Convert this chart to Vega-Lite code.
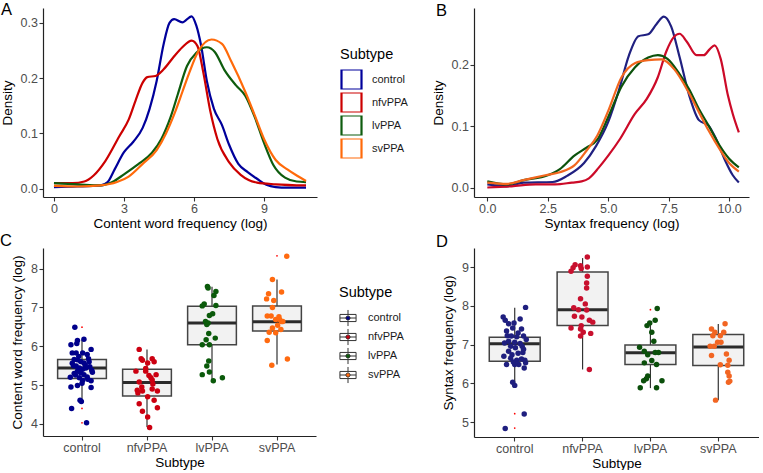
{
  "$schema": "https://vega.github.io/schema/vega-lite/v6.json",
  "background": "white",
  "padding": {"left": 0, "top": 1, "right": 0, "bottom": 0},
  "columns": 2,
  "spacing": {"row": 2, "column": 23},
  "resolve": {"scale": {"color": "independent"}, "legend": {"color": "independent"}},
  "config": {
    "font": "Liberation Sans",
    "view": {"stroke": null},
    "axis": {"grid": false, "domainColor": "#222222", "domainWidth": 1.2, "tickColor": "#333333", "tickWidth": 1.1, "tickSize": 4, "labelColor": "#4D4D4D", "labelFontSize": 12.5, "labelPadding": 1.5, "titleFontSize": 13.5, "titleFontWeight": "normal", "titleColor": "#000000", "titlePadding": 6},
    "axisX": {"titlePadding": 1},
    "legend": {"titleFontWeight": "normal", "titleColor": "#000000", "labelColor": "#1A1A1A", "padding": 0},
    "title": {"fontWeight": "normal", "fontSize": 16.5, "color": "#000000", "anchor": "start", "frame": "group", "offset": 0, "baseline": "alphabetic"}
  },
  "datasets": {
    "densA": [
      {"g":"control","x":0,"d":0.003},{"g":"control","x":1,"d":0.004},{"g":"control","x":2,"d":0.006},{"g":"control","x":2.3,"d":0.012},{"g":"control","x":2.6,"d":0.035},{"g":"control","x":3.0,"d":0.066},{"g":"control","x":3.4,"d":0.085},{"g":"control","x":3.8,"d":0.11},{"g":"control","x":4.1,"d":0.145},{"g":"control","x":4.4,"d":0.195},{"g":"control","x":4.7,"d":0.262},{"g":"control","x":4.95,"d":0.3},{"g":"control","x":5.15,"d":0.307},{"g":"control","x":5.5,"d":0.301},{"g":"control","x":5.9,"d":0.312},{"g":"control","x":6.1,"d":0.295},{"g":"control","x":6.3,"d":0.26},{"g":"control","x":6.55,"d":0.195},{"g":"control","x":6.85,"d":0.145},{"g":"control","x":7.2,"d":0.115},{"g":"control","x":7.5,"d":0.08},{"g":"control","x":7.9,"d":0.045},{"g":"control","x":8.3,"d":0.03},{"g":"control","x":8.7,"d":0.018},{"g":"control","x":9.1,"d":0.007},{"g":"control","x":9.5,"d":0.003},{"g":"control","x":10.0,"d":0.002},{"g":"control","x":10.8,"d":0.002},
      {"g":"nfvPPA","x":0,"d":0.01},{"g":"nfvPPA","x":0.8,"d":0.01},{"g":"nfvPPA","x":1.3,"d":0.013},{"g":"nfvPPA","x":1.7,"d":0.024},{"g":"nfvPPA","x":2.2,"d":0.05},{"g":"nfvPPA","x":2.8,"d":0.095},{"g":"nfvPPA","x":3.2,"d":0.125},{"g":"nfvPPA","x":3.5,"d":0.16},{"g":"nfvPPA","x":3.8,"d":0.192},{"g":"nfvPPA","x":4.0,"d":0.202},{"g":"nfvPPA","x":4.35,"d":0.204},{"g":"nfvPPA","x":4.7,"d":0.216},{"g":"nfvPPA","x":5.1,"d":0.237},{"g":"nfvPPA","x":5.5,"d":0.256},{"g":"nfvPPA","x":5.9,"d":0.268},{"g":"nfvPPA","x":6.15,"d":0.258},{"g":"nfvPPA","x":6.4,"d":0.21},{"g":"nfvPPA","x":6.7,"d":0.14},{"g":"nfvPPA","x":7.0,"d":0.09},{"g":"nfvPPA","x":7.5,"d":0.048},{"g":"nfvPPA","x":8.0,"d":0.025},{"g":"nfvPPA","x":8.7,"d":0.011},{"g":"nfvPPA","x":9.5,"d":0.008},{"g":"nfvPPA","x":10.8,"d":0.006},
      {"g":"lvPPA","x":0,"d":0.01},{"g":"lvPPA","x":1,"d":0.008},{"g":"lvPPA","x":2,"d":0.006},{"g":"lvPPA","x":2.5,"d":0.012},{"g":"lvPPA","x":3.0,"d":0.026},{"g":"lvPPA","x":3.6,"d":0.044},{"g":"lvPPA","x":4.2,"d":0.065},{"g":"lvPPA","x":4.6,"d":0.09},{"g":"lvPPA","x":5.0,"d":0.13},{"g":"lvPPA","x":5.3,"d":0.17},{"g":"lvPPA","x":5.7,"d":0.222},{"g":"lvPPA","x":6.1,"d":0.246},{"g":"lvPPA","x":6.55,"d":0.256},{"g":"lvPPA","x":6.9,"d":0.247},{"g":"lvPPA","x":7.3,"d":0.215},{"g":"lvPPA","x":7.8,"d":0.187},{"g":"lvPPA","x":8.2,"d":0.168},{"g":"lvPPA","x":8.6,"d":0.13},{"g":"lvPPA","x":9.0,"d":0.083},{"g":"lvPPA","x":9.4,"d":0.043},{"g":"lvPPA","x":9.9,"d":0.02},{"g":"lvPPA","x":10.4,"d":0.013},{"g":"lvPPA","x":10.8,"d":0.012},
      {"g":"svPPA","x":0,"d":0.005},{"g":"svPPA","x":1,"d":0.004},{"g":"svPPA","x":2,"d":0.006},{"g":"svPPA","x":2.7,"d":0.012},{"g":"svPPA","x":3.2,"d":0.022},{"g":"svPPA","x":3.8,"d":0.045},{"g":"svPPA","x":4.4,"d":0.07},{"g":"svPPA","x":4.8,"d":0.1},{"g":"svPPA","x":5.2,"d":0.14},{"g":"svPPA","x":5.5,"d":0.175},{"g":"svPPA","x":5.8,"d":0.21},{"g":"svPPA","x":6.2,"d":0.25},{"g":"svPPA","x":6.75,"d":0.27},{"g":"svPPA","x":7.2,"d":0.262},{"g":"svPPA","x":7.6,"d":0.23},{"g":"svPPA","x":8.2,"d":0.175},{"g":"svPPA","x":8.6,"d":0.133},{"g":"svPPA","x":9.0,"d":0.09},{"g":"svPPA","x":9.5,"d":0.052},{"g":"svPPA","x":10.0,"d":0.035},{"g":"svPPA","x":10.4,"d":0.024},{"g":"svPPA","x":10.8,"d":0.014}
    ],
    "densB": [
      {"g":"control","x":0,"d":0.005},{"g":"control","x":0.8,"d":0.002},{"g":"control","x":1.5,"d":0.008},{"g":"control","x":2.7,"d":0.009},{"g":"control","x":3.3,"d":0.019},{"g":"control","x":4.0,"d":0.04},{"g":"control","x":4.5,"d":0.068},{"g":"control","x":5.0,"d":0.107},{"g":"control","x":5.45,"d":0.16},{"g":"control","x":5.85,"d":0.215},{"g":"control","x":6.25,"d":0.247},{"g":"control","x":6.65,"d":0.25},{"g":"control","x":7.0,"d":0.267},{"g":"control","x":7.3,"d":0.279},{"g":"control","x":7.6,"d":0.263},{"g":"control","x":7.95,"d":0.213},{"g":"control","x":8.35,"d":0.15},{"g":"control","x":8.75,"d":0.11},{"g":"control","x":9.15,"d":0.101},{"g":"control","x":9.45,"d":0.08},{"g":"control","x":9.8,"d":0.047},{"g":"control","x":10.15,"d":0.02},{"g":"control","x":10.4,"d":0.008},
      {"g":"nfvPPA","x":0,"d":0.0},{"g":"nfvPPA","x":1,"d":0.002},{"g":"nfvPPA","x":2,"d":0.005},{"g":"nfvPPA","x":2.8,"d":0.005},{"g":"nfvPPA","x":3.5,"d":0.008},{"g":"nfvPPA","x":3.9,"d":0.01},{"g":"nfvPPA","x":4.2,"d":0.015},{"g":"nfvPPA","x":4.6,"d":0.032},{"g":"nfvPPA","x":5.0,"d":0.052},{"g":"nfvPPA","x":5.5,"d":0.08},{"g":"nfvPPA","x":6.1,"d":0.12},{"g":"nfvPPA","x":6.6,"d":0.145},{"g":"nfvPPA","x":7.05,"d":0.18},{"g":"nfvPPA","x":7.4,"d":0.222},{"g":"nfvPPA","x":7.7,"d":0.245},{"g":"nfvPPA","x":7.95,"d":0.251},{"g":"nfvPPA","x":8.25,"d":0.238},{"g":"nfvPPA","x":8.65,"d":0.216},{"g":"nfvPPA","x":8.95,"d":0.216},{"g":"nfvPPA","x":9.2,"d":0.226},{"g":"nfvPPA","x":9.4,"d":0.232},{"g":"nfvPPA","x":9.65,"d":0.21},{"g":"nfvPPA","x":9.95,"d":0.15},{"g":"nfvPPA","x":10.15,"d":0.12},{"g":"nfvPPA","x":10.4,"d":0.09},
      {"g":"lvPPA","x":0,"d":0.01},{"g":"lvPPA","x":0.8,"d":0.005},{"g":"lvPPA","x":1.5,"d":0.012},{"g":"lvPPA","x":2.5,"d":0.02},{"g":"lvPPA","x":3.0,"d":0.03},{"g":"lvPPA","x":3.6,"d":0.052},{"g":"lvPPA","x":4.1,"d":0.065},{"g":"lvPPA","x":4.55,"d":0.078},{"g":"lvPPA","x":5.0,"d":0.115},{"g":"lvPPA","x":5.55,"d":0.165},{"g":"lvPPA","x":6.1,"d":0.196},{"g":"lvPPA","x":6.65,"d":0.212},{"g":"lvPPA","x":7.05,"d":0.216},{"g":"lvPPA","x":7.45,"d":0.21},{"g":"lvPPA","x":7.95,"d":0.185},{"g":"lvPPA","x":8.35,"d":0.16},{"g":"lvPPA","x":8.75,"d":0.128},{"g":"lvPPA","x":9.15,"d":0.101},{"g":"lvPPA","x":9.6,"d":0.069},{"g":"lvPPA","x":10.0,"d":0.047},{"g":"lvPPA","x":10.4,"d":0.033},
      {"g":"svPPA","x":0,"d":0.008},{"g":"svPPA","x":0.8,"d":0.006},{"g":"svPPA","x":1.5,"d":0.012},{"g":"svPPA","x":2.4,"d":0.02},{"g":"svPPA","x":3.0,"d":0.025},{"g":"svPPA","x":3.6,"d":0.036},{"g":"svPPA","x":4.1,"d":0.06},{"g":"svPPA","x":4.55,"d":0.085},{"g":"svPPA","x":5.0,"d":0.125},{"g":"svPPA","x":5.55,"d":0.18},{"g":"svPPA","x":6.1,"d":0.203},{"g":"svPPA","x":6.65,"d":0.208},{"g":"svPPA","x":7.2,"d":0.209},{"g":"svPPA","x":7.75,"d":0.192},{"g":"svPPA","x":8.3,"d":0.157},{"g":"svPPA","x":8.75,"d":0.123},{"g":"svPPA","x":9.15,"d":0.093},{"g":"svPPA","x":9.6,"d":0.063},{"g":"svPPA","x":10.0,"d":0.04},{"g":"svPPA","x":10.4,"d":0.026}
    ],
    "boxC": [
      {"g":"control","lo":4.6,"q1":5.17,"med":5.44,"q3":5.66,"hi":6.17},
      {"g":"nfvPPA","lo":3.92,"q1":4.72,"med":5.07,"q3":5.41,"hi":5.92},
      {"g":"lvPPA","lo":5.1,"q1":6.04,"med":6.6,"q3":7.03,"hi":7.53},
      {"g":"svPPA","lo":5.53,"q1":6.39,"med":6.63,"q3":7.04,"hi":7.72}
    ],
    "outC": [
      {"g":"control","v":6.49},{"g":"control","v":4.4},{"g":"control","v":4.03},{"g":"svPPA","v":8.33}
    ],
    "boxD": [
      {"g":"control","lo":5.93,"q1":6.57,"med":7.02,"q3":7.19,"hi":7.95},
      {"g":"nfvPPA","lo":6.36,"q1":7.49,"med":7.9,"q3":8.87,"hi":9.23},
      {"g":"lvPPA","lo":5.88,"q1":6.49,"med":6.79,"q3":6.99,"hi":7.58},
      {"g":"svPPA","lo":5.57,"q1":6.46,"med":6.94,"q3":7.26,"hi":7.53}
    ],
    "outD": [
      {"g":"control","v":5.22},{"g":"control","v":4.85},{"g":"lvPPA","v":7.9}
    ],
    "ptsC": [
      {"g":"control","j":-0.11,"v":6.49},{"g":"control","j":-0.07,"v":6.15},{"g":"control","j":0.03,"v":6.18},{"g":"control","j":-0.17,"v":6.04},{"g":"control","j":-0.08,"v":6.07},{"g":"control","j":0.14,"v":5.92},{"g":"control","j":-0.15,"v":5.83},{"g":"control","j":-0.09,"v":5.83},{"g":"control","j":0.01,"v":5.83},{"g":"control","j":0.08,"v":5.79},{"g":"control","j":-0.12,"v":5.66},{"g":"control","j":-0.07,"v":5.65},{"g":"control","j":-0.02,"v":5.61},{"g":"control","j":0.03,"v":5.57},{"g":"control","j":0.11,"v":5.6},{"g":"control","j":-0.15,"v":5.56},{"g":"control","j":-0.09,"v":5.49},{"g":"control","j":-0.04,"v":5.44},{"g":"control","j":0.01,"v":5.41},{"g":"control","j":0.06,"v":5.44},{"g":"control","j":-0.07,"v":5.36},{"g":"control","j":-0.02,"v":5.32},{"g":"control","j":0.16,"v":5.33},{"g":"control","j":-0.12,"v":5.3},{"g":"control","j":0.03,"v":5.27},{"g":"control","j":0.08,"v":5.21},{"g":"control","j":-0.04,"v":5.19},{"g":"control","j":0.14,"v":5.11},{"g":"control","j":0.01,"v":5.12},{"g":"control","j":-0.17,"v":4.95},{"g":"control","j":-0.07,"v":4.99},{"g":"control","j":0.14,"v":4.94},{"g":"control","j":-0.03,"v":4.61},{"g":"control","j":-0.01,"v":4.58},{"g":"control","j":-0.16,"v":4.4},{"g":"control","j":0.07,"v":4.03},{"g":"control","j":-0.13,"v":5.5},{"g":"control","j":0.12,"v":5.47},{"g":"control","j":0.05,"v":5.52},{"g":"control","j":-0.1,"v":5.26},{"g":"control","j":0.1,"v":5.68},{"g":"control","j":-0.05,"v":5.74},{"g":"control","j":0.15,"v":5.38},{"g":"control","j":-0.18,"v":5.2},{"g":"control","j":0.0,"v":5.05},{"g":"control","j":0.09,"v":5.15},
      {"g":"nfvPPA","j":-0.12,"v":5.92},{"g":"nfvPPA","j":-0.09,"v":5.68},{"g":"nfvPPA","j":-0.07,"v":5.64},{"g":"nfvPPA","j":0.08,"v":5.68},{"g":"nfvPPA","j":0.01,"v":5.57},{"g":"nfvPPA","j":-0.17,"v":5.36},{"g":"nfvPPA","j":-0.02,"v":5.36},{"g":"nfvPPA","j":0.11,"v":5.6},{"g":"nfvPPA","j":0.14,"v":5.27},{"g":"nfvPPA","j":0.06,"v":5.19},{"g":"nfvPPA","j":0.08,"v":5.13},{"g":"nfvPPA","j":-0.12,"v":5.08},{"g":"nfvPPA","j":-0.15,"v":4.87},{"g":"nfvPPA","j":0.16,"v":4.85},{"g":"nfvPPA","j":-0.07,"v":4.85},{"g":"nfvPPA","j":0.08,"v":4.9},{"g":"nfvPPA","j":0.01,"v":4.7},{"g":"nfvPPA","j":-0.12,"v":4.52},{"g":"nfvPPA","j":0.11,"v":4.61},{"g":"nfvPPA","j":0.16,"v":4.42},{"g":"nfvPPA","j":-0.07,"v":4.33},{"g":"nfvPPA","j":0.01,"v":4.18},{"g":"nfvPPA","j":0.04,"v":3.91},{"g":"nfvPPA","j":-0.02,"v":5.43},{"g":"nfvPPA","j":0.03,"v":5.25},{"g":"nfvPPA","j":-0.08,"v":4.95},{"g":"nfvPPA","j":0.09,"v":5.03},{"g":"nfvPPA","j":-0.14,"v":4.8},
      {"g":"lvPPA","j":-0.07,"v":7.54},{"g":"lvPPA","j":-0.06,"v":7.5},{"g":"lvPPA","j":0.03,"v":7.31},{"g":"lvPPA","j":0.06,"v":7.41},{"g":"lvPPA","j":-0.12,"v":7.09},{"g":"lvPPA","j":-0.15,"v":7.04},{"g":"lvPPA","j":0.06,"v":7.05},{"g":"lvPPA","j":0.01,"v":6.84},{"g":"lvPPA","j":-0.04,"v":6.79},{"g":"lvPPA","j":-0.1,"v":6.64},{"g":"lvPPA","j":-0.06,"v":6.6},{"g":"lvPPA","j":-0.08,"v":6.56},{"g":"lvPPA","j":0.05,"v":6.21},{"g":"lvPPA","j":-0.05,"v":6.33},{"g":"lvPPA","j":-0.15,"v":6.04},{"g":"lvPPA","j":-0.04,"v":6.04},{"g":"lvPPA","j":-0.09,"v":6.17},{"g":"lvPPA","j":-0.05,"v":5.62},{"g":"lvPPA","j":-0.08,"v":5.49},{"g":"lvPPA","j":-0.15,"v":5.27},{"g":"lvPPA","j":-0.04,"v":5.34},{"g":"lvPPA","j":0.02,"v":5.11},{"g":"lvPPA","j":0.16,"v":5.19},
      {"g":"svPPA","j":0.15,"v":8.32},{"g":"svPPA","j":-0.07,"v":7.72},{"g":"svPPA","j":0.07,"v":7.4},{"g":"svPPA","j":-0.13,"v":7.35},{"g":"svPPA","j":-0.05,"v":7.18},{"g":"svPPA","j":-0.16,"v":7.22},{"g":"svPPA","j":-0.07,"v":7.0},{"g":"svPPA","j":-0.15,"v":6.78},{"g":"svPPA","j":-0.09,"v":6.78},{"g":"svPPA","j":-0.02,"v":6.69},{"g":"svPPA","j":0.04,"v":6.69},{"g":"svPPA","j":0.07,"v":6.64},{"g":"svPPA","j":0.01,"v":6.54},{"g":"svPPA","j":-0.07,"v":6.47},{"g":"svPPA","j":-0.02,"v":6.35},{"g":"svPPA","j":0.06,"v":6.43},{"g":"svPPA","j":-0.12,"v":6.36},{"g":"svPPA","j":-0.15,"v":6.15},{"g":"svPPA","j":0.16,"v":5.67},{"g":"svPPA","j":-0.08,"v":5.51},{"g":"svPPA","j":0.09,"v":6.64},{"g":"svPPA","j":0.03,"v":6.76}
    ],
    "ptsD": [
      {"g":"control","j":0.16,"v":7.96},{"g":"control","j":-0.17,"v":7.71},{"g":"control","j":-0.14,"v":7.63},{"g":"control","j":-0.09,"v":7.54},{"g":"control","j":-0.01,"v":7.56},{"g":"control","j":0.08,"v":7.66},{"g":"control","j":-0.03,"v":7.43},{"g":"control","j":-0.11,"v":7.23},{"g":"control","j":-0.05,"v":7.22},{"g":"control","j":0.03,"v":7.2},{"g":"control","j":0.13,"v":7.22},{"g":"control","j":-0.15,"v":7.04},{"g":"control","j":-0.09,"v":7.09},{"g":"control","j":0.0,"v":7.06},{"g":"control","j":0.08,"v":7.03},{"g":"control","j":0.17,"v":7.13},{"g":"control","j":-0.06,"v":6.96},{"g":"control","j":0.01,"v":6.92},{"g":"control","j":0.11,"v":6.96},{"g":"control","j":-0.09,"v":6.83},{"g":"control","j":-0.04,"v":6.74},{"g":"control","j":0.05,"v":6.78},{"g":"control","j":0.12,"v":6.8},{"g":"control","j":-0.12,"v":6.49},{"g":"control","j":0.03,"v":6.6},{"g":"control","j":0.1,"v":6.63},{"g":"control","j":0.16,"v":6.53},{"g":"control","j":0.06,"v":6.49},{"g":"control","j":0.0,"v":6.49},{"g":"control","j":0.14,"v":6.4},{"g":"control","j":-0.03,"v":6.03},{"g":"control","j":0.0,"v":5.95},{"g":"control","j":0.14,"v":5.21},{"g":"control","j":-0.14,"v":4.84},{"g":"control","j":-0.12,"v":7.35},{"g":"control","j":0.1,"v":7.4},{"g":"control","j":-0.06,"v":6.65},{"g":"control","j":0.13,"v":6.88},{"g":"control","j":-0.16,"v":6.7},{"g":"control","j":0.05,"v":7.3},{"g":"control","j":-0.02,"v":6.55},{"g":"control","j":0.15,"v":6.6},
      {"g":"nfvPPA","j":0.07,"v":9.26},{"g":"nfvPPA","j":-0.17,"v":8.89},{"g":"nfvPPA","j":-0.14,"v":8.98},{"g":"nfvPPA","j":-0.11,"v":9.06},{"g":"nfvPPA","j":-0.03,"v":9.03},{"g":"nfvPPA","j":-0.02,"v":8.96},{"g":"nfvPPA","j":0.07,"v":9.0},{"g":"nfvPPA","j":0.07,"v":8.76},{"g":"nfvPPA","j":0.06,"v":8.59},{"g":"nfvPPA","j":0.06,"v":8.46},{"g":"nfvPPA","j":-0.03,"v":8.18},{"g":"nfvPPA","j":0.04,"v":8.05},{"g":"nfvPPA","j":-0.13,"v":7.95},{"g":"nfvPPA","j":-0.06,"v":7.9},{"g":"nfvPPA","j":0.06,"v":7.89},{"g":"nfvPPA","j":-0.12,"v":7.73},{"g":"nfvPPA","j":-0.01,"v":7.71},{"g":"nfvPPA","j":0.1,"v":7.63},{"g":"nfvPPA","j":0.15,"v":7.58},{"g":"nfvPPA","j":-0.02,"v":7.49},{"g":"nfvPPA","j":-0.17,"v":7.43},{"g":"nfvPPA","j":-0.03,"v":7.4},{"g":"nfvPPA","j":0.01,"v":7.32},{"g":"nfvPPA","j":0.12,"v":7.29},{"g":"nfvPPA","j":-0.03,"v":7.22},{"g":"nfvPPA","j":0.1,"v":6.36},
      {"g":"lvPPA","j":0.1,"v":7.93},{"g":"lvPPA","j":-0.05,"v":7.49},{"g":"lvPPA","j":0.07,"v":7.63},{"g":"lvPPA","j":-0.01,"v":7.56},{"g":"lvPPA","j":0.02,"v":7.32},{"g":"lvPPA","j":0.05,"v":7.09},{"g":"lvPPA","j":-0.16,"v":6.93},{"g":"lvPPA","j":-0.09,"v":6.83},{"g":"lvPPA","j":-0.04,"v":6.74},{"g":"lvPPA","j":0.07,"v":6.8},{"g":"lvPPA","j":0.12,"v":6.8},{"g":"lvPPA","j":0.02,"v":6.59},{"g":"lvPPA","j":0.09,"v":6.49},{"g":"lvPPA","j":-0.09,"v":6.53},{"g":"lvPPA","j":-0.04,"v":6.19},{"g":"lvPPA","j":-0.06,"v":6.12},{"g":"lvPPA","j":-0.1,"v":6.07},{"g":"lvPPA","j":0.17,"v":6.07},{"g":"lvPPA","j":-0.15,"v":5.89},{"g":"lvPPA","j":0.09,"v":5.89},
      {"g":"svPPA","j":0.1,"v":7.54},{"g":"svPPA","j":-0.1,"v":7.4},{"g":"svPPA","j":-0.05,"v":7.32},{"g":"svPPA","j":0.03,"v":7.23},{"g":"svPPA","j":0.08,"v":7.32},{"g":"svPPA","j":-0.08,"v":7.23},{"g":"svPPA","j":-0.01,"v":7.06},{"g":"svPPA","j":0.04,"v":7.06},{"g":"svPPA","j":-0.12,"v":6.96},{"g":"svPPA","j":-0.06,"v":6.96},{"g":"svPPA","j":-0.1,"v":6.72},{"g":"svPPA","j":0.12,"v":6.76},{"g":"svPPA","j":0.16,"v":6.6},{"g":"svPPA","j":0.14,"v":6.47},{"g":"svPPA","j":0.03,"v":6.48},{"g":"svPPA","j":0.14,"v":6.29},{"g":"svPPA","j":0.16,"v":6.19},{"g":"svPPA","j":0.17,"v":6.06},{"g":"svPPA","j":0.15,"v":6.03},{"g":"svPPA","j":-0.04,"v":5.57}
    ]
  },
  "concat": [
    {
      "title": {"text": "A", "dx": -42, "dy": 14},
      "width": 274, "height": 189,
      "data": {"name": "densA"},
      "mark": {"type": "line", "interpolate": "monotone", "strokeWidth": 2.2},
      "encoding": {
        "x": {"field": "x", "type": "quantitative", "scale": {"domain": [-0.47, 11.27], "nice": false, "zero": false}, "axis": {"values": [0, 3, 6, 9], "format": "d", "title": "Content word frequency (log)"}},
        "y": {"field": "d", "type": "quantitative", "scale": {"domain": [-0.015, 0.327], "nice": false, "zero": false}, "axis": {"values": [0, 0.1, 0.2, 0.3], "format": ".1f", "title": "Density"}},
        "color": {"field": "g", "type": "nominal", "scale": {"domain": ["control", "nfvPPA", "lvPPA", "svPPA"], "range": ["#00009B", "#CC0000", "#0E5C0E", "#FF6A0A"]},
          "legend": {"orient": "none", "legendX": 297, "legendY": 40, "title": "Subtype", "titleFontSize": 14.5, "titlePadding": 7, "labelFontSize": 11, "labelOffset": 9, "symbolType": "square", "symbolSize": 400, "symbolStrokeWidth": 2.2, "rowPadding": 3, "clipHeight": 20, "encode": {"symbols": {"update": {"fill": {"value": "white"}, "size": {"value": 400}}}}}}
      }
    },
    {
      "title": {"text": "B", "dx": -38, "dy": 15},
      "width": 275, "height": 189,
      "data": {"name": "densB"},
      "mark": {"type": "line", "interpolate": "monotone", "strokeWidth": 2.2},
      "encoding": {
        "x": {"field": "x", "type": "quantitative", "scale": {"domain": [-0.55, 10.82], "nice": false, "zero": false}, "axis": {"values": [0, 2.5, 5, 7.5, 10], "format": ".1f", "title": "Syntax frequency (log)"}},
        "y": {"field": "d", "type": "quantitative", "scale": {"domain": [-0.0155, 0.293], "nice": false, "zero": false}, "axis": {"values": [0, 0.1, 0.2], "format": ".1f", "title": "Density"}},
        "color": {"field": "g", "type": "nominal", "scale": {"domain": ["control", "nfvPPA", "lvPPA", "svPPA"], "range": ["#202080", "#CC0A28", "#0C520C", "#F2661E"]}, "legend": null}
      }
    },
    {
      "title": {"text": "C", "dx": -43, "dy": 5},
      "width": 273, "height": 188,
      "resolve": {"scale": {"xOffset": "independent"}},
      "layer": [
        {
          "data": {"name": "boxC"},
          "mark": {"type": "rule", "color": "#333333", "strokeWidth": 1.2},
          "encoding": {
            "x": {"field": "g", "type": "nominal", "scale": {"type": "band", "domain": ["control", "nfvPPA", "lvPPA", "svPPA"], "paddingInner": 0, "paddingOuter": 0.1}, "axis": {"title": "Subtype", "labelAngle": 0}},
            "y": {"field": "lo", "type": "quantitative", "scale": {"domain": [3.69, 8.53], "nice": false, "zero": false}, "axis": {"values": [4, 5, 6, 7, 8], "title": "Content word frequency (log)"}},
            "y2": {"field": "hi"}
          }
        },
        {
          "data": {"name": "boxC"},
          "mark": {"type": "bar", "fill": "#F2F2F2", "stroke": "#444444", "strokeWidth": 1.5, "width": {"band": 0.75}},
          "encoding": {
            "x": {"field": "g", "type": "nominal"},
            "y": {"field": "q1", "type": "quantitative"},
            "y2": {"field": "q3"}
          }
        },
        {
          "data": {"name": "boxC"},
          "mark": {"type": "tick", "color": "#2B2B2B", "thickness": 3, "size": 48, "opacity": 1},
          "encoding": {
            "x": {"field": "g", "type": "nominal"},
            "y": {"field": "med", "type": "quantitative"}
          }
        },
        {
          "data": {"name": "outC"},
          "mark": {"type": "point", "filled": true, "color": "#FF0000", "size": 3, "opacity": 1},
          "encoding": {
            "x": {"field": "g", "type": "nominal"},
            "y": {"field": "v", "type": "quantitative"}
          }
        },
        {
          "data": {"name": "ptsC"},
          "mark": {"type": "point", "filled": true, "size": 30, "opacity": 1},
          "encoding": {
            "x": {"field": "g", "type": "nominal"},
            "xOffset": {"field": "j", "type": "quantitative", "scale": {"domain": [-0.5, 0.5]}},
            "y": {"field": "v", "type": "quantitative"},
            "color": {"field": "g", "type": "nominal", "scale": {"domain": ["control", "nfvPPA", "lvPPA", "svPPA"], "range": ["#00008B", "#CC0011", "#0B5A0B", "#FF6A10"]},
              "legend": {"orient": "none", "legendX": 296, "legendY": 38, "title": "Subtype", "titleFontSize": 14.5, "titlePadding": 9, "labelFontSize": 11, "labelOffset": 11, "symbolType": "M-0.95,-0.42L0.95,-0.42M0.95,-0.42L0.95,0.42M0.95,0.42L-0.95,0.42M-0.95,0.42L-0.95,-0.42M-0.95,0L-0.25,0M0.25,0L0.95,0M0,-0.42L0,-0.95M0,0.42L0,0.95M0.25,0A0.25,0.25,0,1,1,-0.25,0A0.25,0.25,0,1,1,0.25,0Z", "symbolSize": 289, "symbolStrokeColor": "#333333", "symbolStrokeWidth": 1, "symbolOpacity": 1, "rowPadding": 2, "clipHeight": 17, "encode": {"symbols": {"update": {"size": {"value": 289}, "stroke": {"value": "#333333"}, "strokeWidth": {"value": 1}}}}}}
          }
        }
      ]
    },
    {
      "title": {"text": "D", "dx": -38, "dy": 6},
      "width": 285, "height": 189,
      "resolve": {"scale": {"xOffset": "independent"}},
      "layer": [
        {
          "data": {"name": "boxD"},
          "mark": {"type": "rule", "color": "#333333", "strokeWidth": 1.2},
          "encoding": {
            "x": {"field": "g", "type": "nominal", "scale": {"type": "band", "domain": ["control", "nfvPPA", "lvPPA", "svPPA"], "paddingInner": 0, "paddingOuter": 0.1}, "axis": {"title": "Subtype", "labelAngle": 0}},
            "y": {"field": "lo", "type": "quantitative", "scale": {"domain": [4.62, 9.49], "nice": false, "zero": false}, "axis": {"values": [5, 6, 7, 8, 9], "title": "Syntax frequency (log)"}},
            "y2": {"field": "hi"}
          }
        },
        {
          "data": {"name": "boxD"},
          "mark": {"type": "bar", "fill": "#F2F2F2", "stroke": "#444444", "strokeWidth": 1.5, "width": {"band": 0.75}},
          "encoding": {
            "x": {"field": "g", "type": "nominal"},
            "y": {"field": "q1", "type": "quantitative"},
            "y2": {"field": "q3"}
          }
        },
        {
          "data": {"name": "boxD"},
          "mark": {"type": "tick", "color": "#2B2B2B", "thickness": 3, "size": 50, "opacity": 1},
          "encoding": {
            "x": {"field": "g", "type": "nominal"},
            "y": {"field": "med", "type": "quantitative"}
          }
        },
        {
          "data": {"name": "outD"},
          "mark": {"type": "point", "filled": true, "color": "#FF0000", "size": 3, "opacity": 1},
          "encoding": {
            "x": {"field": "g", "type": "nominal"},
            "y": {"field": "v", "type": "quantitative"}
          }
        },
        {
          "data": {"name": "ptsD"},
          "mark": {"type": "point", "filled": true, "size": 30, "opacity": 1},
          "encoding": {
            "x": {"field": "g", "type": "nominal"},
            "xOffset": {"field": "j", "type": "quantitative", "scale": {"domain": [-0.5, 0.5]}},
            "y": {"field": "v", "type": "quantitative"},
            "color": {"field": "g", "type": "nominal", "scale": {"domain": ["control", "nfvPPA", "lvPPA", "svPPA"], "range": ["#1F1F7F", "#C8102E", "#0B4F0B", "#F26522"]}, "legend": null}
          }
        }
      ]
    }
  ]
}
